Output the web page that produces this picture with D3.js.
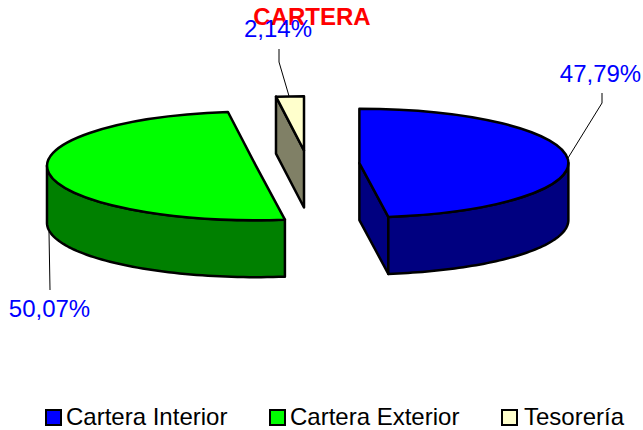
<!DOCTYPE html>
<html>
<head>
<meta charset="utf-8">
<script src="https://cdn.jsdelivr.net/npm/d3@7"></script>
<style>
  body { margin: 0; background: #fff; }
  text { font-family: "Liberation Sans", Arial, sans-serif; }
</style>
</head>
<body>
<div id="chart"></div>
<script>
var categories = ["Cartera Interior", "Cartera Exterior", "Tesorería"];
var values = [47.79, 50.07, 2.14];
var topColors = ["#0000ff", "#00ff00", "#ffffcc"];
var sideColors = ["#000080", "#008000", "#808066"];

var svgWidth = 643;
var svgHeight = 430;

var centerX = 307.5;
var centerY = 164;
var radius = 209;
var tilt = 0.26;
var depth = 57;
var explode = 52;
var outline = 2.5;

var svg = d3.select("#chart")
    .append("svg")
    .attr("width", svgWidth)
    .attr("height", svgHeight)
    .style("display", "block");

var pie = d3.pie().sort(null).value(d => d.value);
var slices = pie(categories.map((name, i) => ({ name: name, value: values[i], index: i })));

var arc = d3.arc().innerRadius(0).outerRadius(radius);
var line = d3.line();

// every slice is pushed out along its middle angle
function sliceCenter(s) {
    var mid = (s.startAngle + s.endAngle) / 2;
    return [centerX + explode * Math.sin(mid), centerY - explode * tilt * Math.cos(mid)];
}

function rimPoint(s, angle, drop) {
    var c = sliceCenter(s);
    return [c[0] + radius * Math.sin(angle), c[1] - radius * tilt * Math.cos(angle) + (drop || 0)];
}

function rimWall(s) {
    var from = Math.max(s.startAngle, Math.PI / 2);
    var to = Math.min(s.endAngle, Math.PI * 1.5);
    if (from >= to) return null;
    var angles = d3.range(0, 61).map(k => from + (to - from) * k / 60);
    var pts = angles.map(a => rimPoint(s, a, 0))
        .concat(angles.slice().reverse().map(a => rimPoint(s, a, depth)));
    return line(pts) + "Z";
}

function cutWall(s) {
    var a = null;
    if (s.endAngle < Math.PI) a = s.endAngle;
    if (s.startAngle > Math.PI) a = s.startAngle;
    if (a === null) return null;
    var c = sliceCenter(s);
    return line([c, rimPoint(s, a, 0), rimPoint(s, a, depth), [c[0], c[1] + depth]]) + "Z";
}

svg.append("text")
    .attr("x", 312)
    .attr("y", 25)
    .attr("text-anchor", "middle")
    .attr("font-size", "24px")
    .attr("font-weight", "bold")
    .attr("fill", "#ff0000")
    .text("CARTERA");

// back to front: tesoreria, exterior, interior
var drawOrder = [slices[2], slices[1], slices[0]];

drawOrder.forEach(function(s) {
    var i = s.data.index;
    var g = svg.append("g");

    [cutWall(s), rimWall(s)].forEach(function(d) {
        if (!d) return;
        g.append("path")
            .attr("d", d)
            .attr("fill", sideColors[i])
            .attr("stroke", "#000")
            .attr("stroke-width", outline)
            .attr("stroke-linejoin", "round");
    });

    var c = sliceCenter(s);
    g.append("path")
        .attr("transform", `translate(${c[0]}, ${c[1]}) scale(1, ${tilt})`)
        .attr("d", arc(s))
        .attr("fill", topColors[i])
        .attr("stroke", "#000")
        .attr("stroke-width", outline)
        .attr("stroke-linejoin", "round")
        .attr("vector-effect", "non-scaling-stroke");
});

// data labels and their leader lines, in the same order as the categories
var labelX = [600.5, 49.5, 278];
var labelY = [82, 317, 37];
var leaderEnd = [[602, 93], [50, 290], [279, 49]];
var leaderMid = [[602, 103], [50, 290], [279, 62]];
var leaderStart = [[568, 158], [49, 232], [289, 96]];

slices.forEach(function(s, i) {
    svg.append("path")
        .attr("d", line([leaderStart[i], leaderMid[i], leaderEnd[i]]))
        .attr("fill", "none")
        .attr("stroke", "#000")
        .attr("stroke-width", 1);

    svg.append("text")
        .attr("x", labelX[i])
        .attr("y", labelY[i])
        .attr("text-anchor", "middle")
        .attr("font-size", "24px")
        .attr("fill", "#0000ff")
        .text(values[i].toFixed(2).replace(".", ",") + "%");
});

// legend
var legendX = [45, 269, 501];
var legendTextX = [66, 290, 524];
var legend = svg.append("g")
    .selectAll("g")
    .data(categories)
    .enter()
    .append("g");

legend.append("rect")
    .attr("x", (d, i) => legendX[i] + 1)
    .attr("y", 410)
    .attr("width", 15)
    .attr("height", 15)
    .attr("fill", (d, i) => topColors[i])
    .attr("stroke", "#000")
    .attr("stroke-width", 2);

legend.append("text")
    .attr("x", (d, i) => legendTextX[i])
    .attr("y", 425)
    .attr("font-size", "24px")
    .attr("fill", "#000")
    .text(d => d);
</script>
</body>
</html>
